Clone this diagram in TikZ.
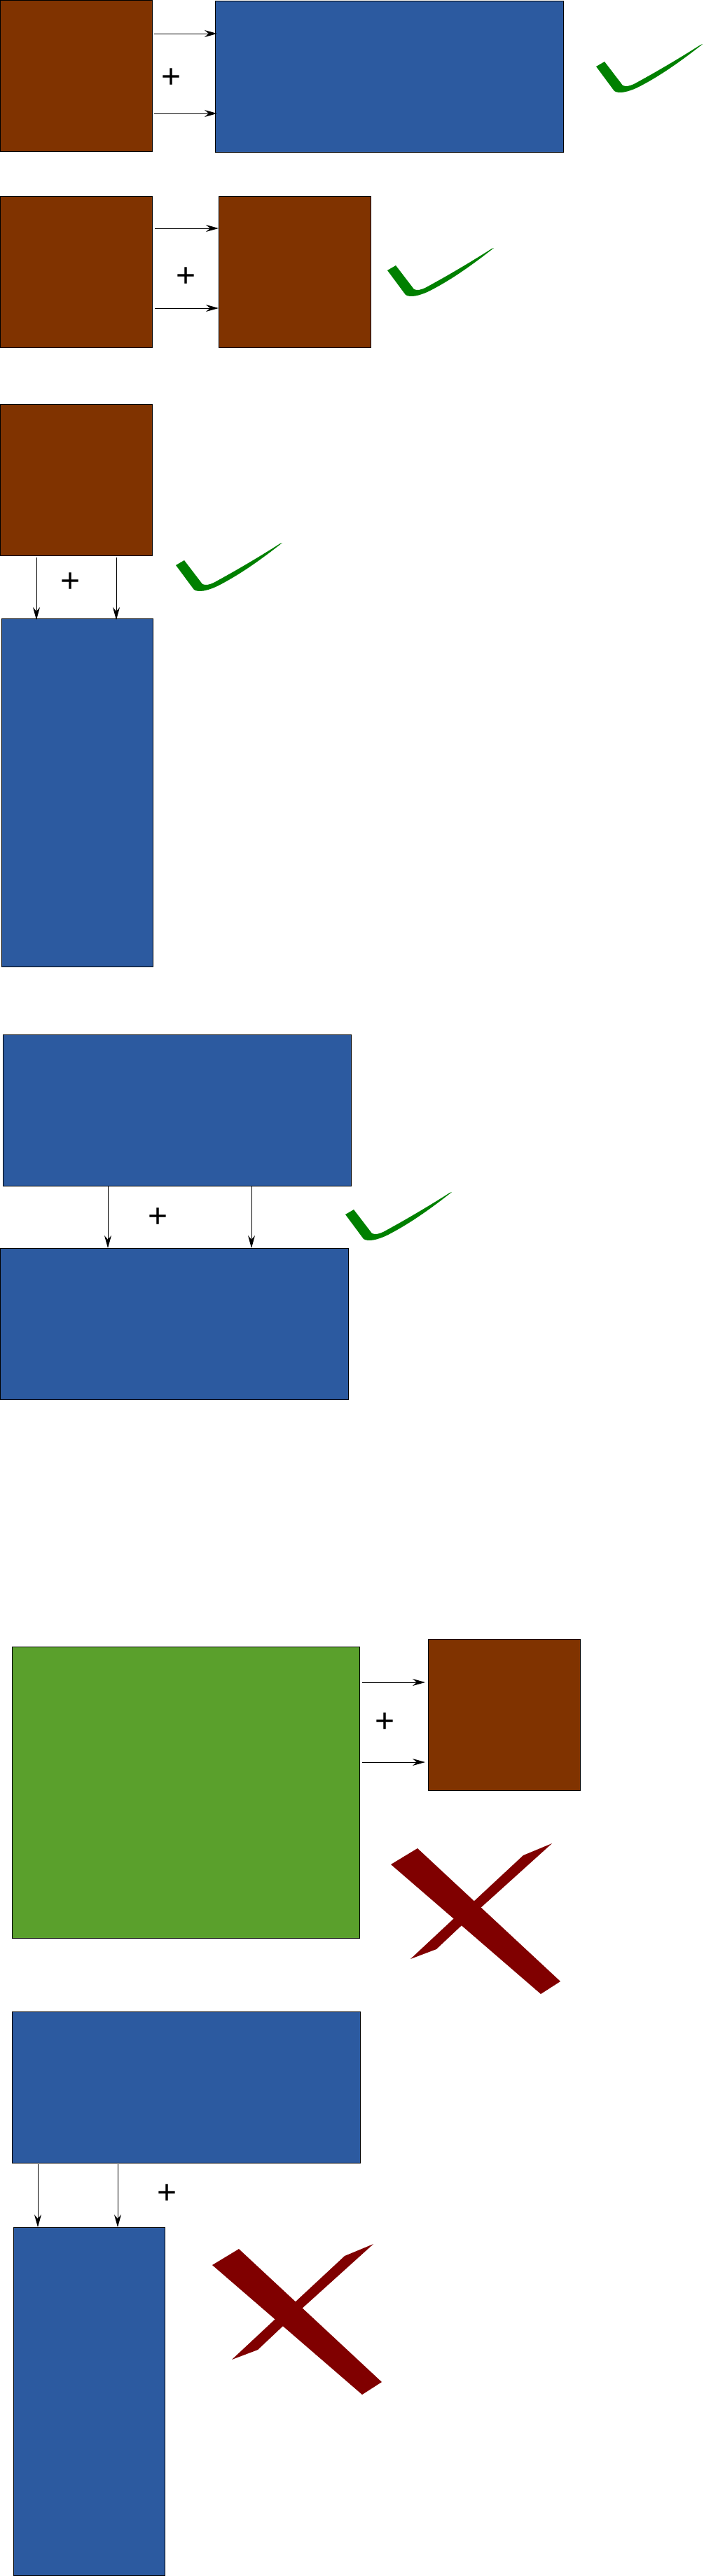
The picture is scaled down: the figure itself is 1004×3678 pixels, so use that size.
\documentclass[tikz,border=0pt]{standalone}
\usepackage{fontspec}
\setmainfont{Liberation Sans}
\usetikzlibrary{arrows.meta}

\definecolor{brickbrown}{RGB}{128,51,0}
\definecolor{steelblue}{RGB}{44,90,160}
\definecolor{leafgreen}{RGB}{90,160,44}
\definecolor{tickgreen}{RGB}{0,128,0}
\definecolor{crossred}{RGB}{128,0,0}

\tikzset{
  block/.style={draw=black, line width=0.8pt, anchor=north west, inner sep=0pt, outer sep=0pt},
  brownsq/.style={block, fill=brickbrown, minimum width=217pt, minimum height=216pt},
  bluewide/.style={block, fill=steelblue, minimum width=497pt, minimum height=216pt},
  bluetall/.style={block, fill=steelblue, minimum width=216pt, minimum height=497pt},
  greenbig/.style={block, fill=leafgreen, minimum width=496pt, minimum height=416pt},
  conn/.style={-{Stealth[length=18pt,width=10pt]}, line width=1pt},
  plus/.style={font=\fontsize{48}{50}\selectfont, inner sep=0pt},
  pics/tick/.style={code={
    \fill[tickgreen] (1,32) -- (13,25) -- (39,59) .. controls (44,61) and (48,60) .. (55,57)
      .. controls (90,38) and (125,17) .. (150,1) -- (153,0)
      .. controls (125,22) and (95,44) .. (62,61) .. controls (46,69) and (33,71) .. (27,67) -- cycle;
  }},
  pics/cross/.style={code={
    \fill[crossred] (28,165) -- (89,108) -- (117,84) -- (189,17) -- (230,0) -- (127,93) -- (100,118) -- (65,151) -- cycle;
    \fill[crossred] (0,30) -- (38,7) -- (242,197) -- (214,215) -- cycle;
  }}
}

\begin{document}
\begin{tikzpicture}[x=1pt,y=-1pt]
\useasboundingbox (0,0) rectangle (1004,3678);

% brown into blue, side by side
\node[brownsq] (a1) at (0,0) {};
\node[bluewide] (a2) at (307,1) {};
\draw[conn] ([xshift=3pt,yshift=-48pt]a1.north east) -- ([xshift=3pt,yshift=-47pt]a2.north west);
\draw[conn] ([xshift=3pt,yshift=-162pt]a1.north east) -- ([xshift=3pt,yshift=-161pt]a2.north west);
\node[plus] (p1) at (245,112) {+};
\pic (t1) at (850,63) {tick};

% brown into brown
\node[brownsq] (b1) at (0,280) {};
\node[brownsq] (b2) at (312,280) {};
\draw[conn] ([xshift=4pt,yshift=-46pt]b1.north east) -- ([yshift=-46pt]b2.north west);
\draw[conn] ([xshift=4pt,yshift=-160pt]b1.north east) -- ([yshift=-160pt]b2.north west);
\node[plus] (p2) at (266,396) {+};
\pic (t2) at (552,354) {tick};

% brown on top of tall blue
\node[brownsq] (c1) at (0,577) {};
\node[bluetall] (c2) at (2,883) {};
\draw[conn] ([xshift=52pt,yshift=-3pt]c1.south west) -- ([xshift=50pt,yshift=-2pt]c2.north west);
\draw[conn] ([xshift=166pt,yshift=-3pt]c1.south west) -- ([xshift=164pt,yshift=-2pt]c2.north west);
\node[plus] (p3) at (101,832) {+};
\pic (t3) at (250,775) {tick};

% wide blue on top of wide blue
\node[bluewide] (d1) at (4,1477) {};
\node[bluewide] (d2) at (0,1782) {};
\draw[conn] ([xshift=150pt]d1.south west) -- ([xshift=154pt]d2.north west);
\draw[conn] ([xshift=355pt]d1.south west) -- ([xshift=359pt]d2.north west);
\node[plus] (p4) at (226,1739) {+};
\pic (t4) at (492,1702) {tick};

% green into brown
\node[greenbig] (e1) at (17,2351) {};
\node[brownsq] (e2) at (611,2340) {};
\draw[conn] ([xshift=4pt,yshift=-51pt]e1.north east) -- ([xshift=-4pt,yshift=-62pt]e2.north west);
\draw[conn] ([xshift=4pt,yshift=-165pt]e1.north east) -- ([xshift=-4pt,yshift=-176pt]e2.north west);
\node[plus] (p5) at (550,2460) {+};
\pic (x1) at (558,2632) {cross};

% wide blue on top of tall blue
\node[bluewide] (f1) at (17,2872) {};
\node[bluetall] (f2) at (19,3180) {};
\draw[conn] ([xshift=37pt,yshift=-2pt]f1.south west) -- ([xshift=35pt]f2.north west);
\draw[conn] ([xshift=151pt,yshift=-2pt]f1.south west) -- ([xshift=149pt]f2.north west);
\node[plus] (p6) at (239,3133) {+};
\pic (x2) at (303,3204) {cross};
\end{tikzpicture}
\end{document}
